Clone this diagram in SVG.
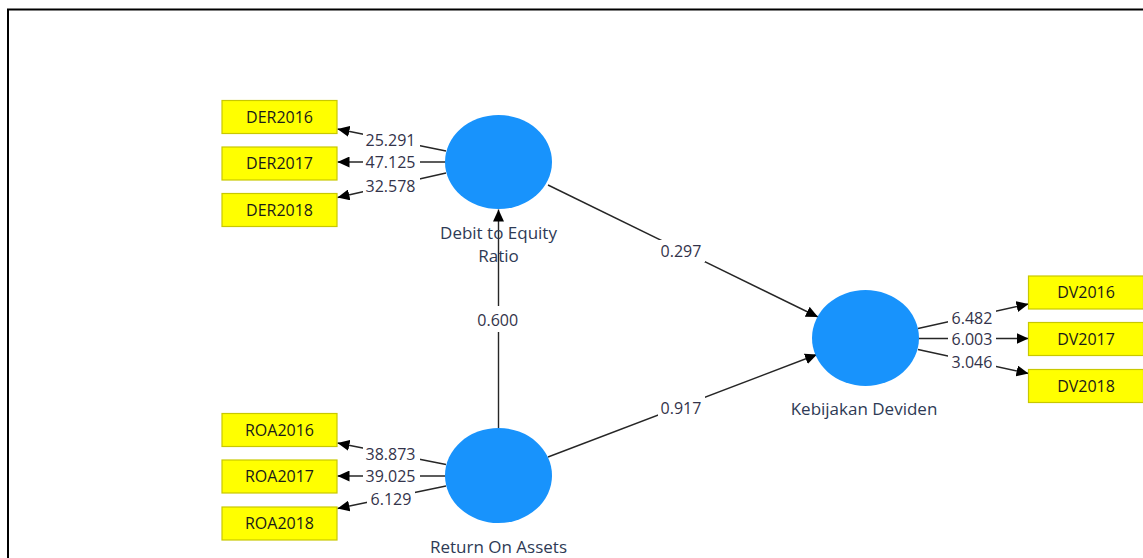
<svg xmlns="http://www.w3.org/2000/svg" width="1143" height="558" viewBox="0 0 1143 558">
<defs>
<marker id="arr" markerUnits="userSpaceOnUse" markerWidth="13" markerHeight="11" refX="12" refY="5.5" orient="auto">
<path d="M0,0 L12,5.5 L0,11 z" fill="#000"/>
</marker>
<style>
.frame{stroke:#000;stroke-width:2;fill:none}
.ln{stroke:#262626;stroke-width:1.4;fill:none}
.arw{marker-end:url(#arr)}
.bg{fill:#fff}
.lbl{font-family:"Open Sans","Noto Sans",sans-serif;font-size:16px;fill:#33334a;text-anchor:middle}
.box{fill:#ffff00;stroke:#c8c800;stroke-width:1.2}
.btx{font-family:"Open Sans","Noto Sans",sans-serif;font-size:16px;fill:#1a1a1a;text-anchor:middle}
.lv{fill:#1893fc}
.ntx{font-family:"Open Sans","Noto Sans",sans-serif;font-size:17px;fill:#2e3a55;text-anchor:middle}
</style>
</defs>
<rect width="1143" height="558" fill="#fff"/>
<path class="frame" d="M8,558 L8,9.5 L1143,9.5"/>

<g id="connectors">
<line class="ln arw" x1="498.5" y1="428" x2="498.5" y2="209.5"/>
<rect class="bg" x="476" y="306" width="44" height="26"/>
<text class="lbl" x="497.7" y="325.5">0.600</text>

<line class="ln arw" x1="548" y1="185" x2="818" y2="317"/>
<rect class="bg" x="658" y="240" width="47" height="22"/>
<text class="lbl" x="681" y="256.5">0.297</text>

<line class="ln arw" x1="548" y1="457" x2="817" y2="354.5"/>
<rect class="bg" x="658" y="396" width="47" height="22"/>
<text class="lbl" x="681" y="413.5">0.917</text>

<line class="ln arw" x1="446" y1="151" x2="337.5" y2="129"/>
<rect class="bg" x="363" y="131" width="57" height="19"/>
<text class="lbl" x="390.5" y="145.5">25.291</text>
<line class="ln arw" x1="446" y1="162" x2="337.5" y2="162"/>
<rect class="bg" x="363" y="153" width="57" height="19"/>
<text class="lbl" x="390.5" y="168">47.125</text>
<line class="ln arw" x1="446" y1="173" x2="337.5" y2="197.5"/>
<rect class="bg" x="363" y="177" width="57" height="19"/>
<text class="lbl" x="390.5" y="191.5">32.578</text>

<line class="ln arw" x1="446" y1="464.5" x2="337.5" y2="443"/>
<rect class="bg" x="363" y="445" width="57" height="19"/>
<text class="lbl" x="390.5" y="460">38.873</text>
<line class="ln arw" x1="446" y1="476" x2="337.5" y2="476"/>
<rect class="bg" x="363" y="467" width="57" height="19"/>
<text class="lbl" x="390.5" y="481.5">39.025</text>
<line class="ln arw" x1="446" y1="486" x2="337.5" y2="508.5"/>
<rect class="bg" x="367" y="490" width="48" height="19"/>
<text class="lbl" x="391" y="505">6.129</text>

<line class="ln arw" x1="918" y1="328.5" x2="1028.5" y2="304"/>
<rect class="bg" x="948" y="309" width="48" height="19"/>
<text class="lbl" x="972" y="324">6.482</text>
<line class="ln arw" x1="918" y1="338.5" x2="1028.5" y2="338.5"/>
<rect class="bg" x="948" y="330" width="48" height="19"/>
<text class="lbl" x="972" y="345">6.003</text>
<line class="ln arw" x1="918" y1="349.5" x2="1028.5" y2="373.5"/>
<rect class="bg" x="948" y="353" width="48" height="19"/>
<text class="lbl" x="972" y="367.5">3.046</text>
</g>

<g id="node-der">
<ellipse class="lv" cx="498.5" cy="162" rx="53.5" ry="47"/>
<text class="ntx" x="498.5" y="238.5">Debit to Equity<tspan x="498.5" dy="23">Ratio</tspan></text>
</g>
<g id="node-roa">
<ellipse class="lv" cx="498.5" cy="475.5" rx="53.5" ry="47.5"/>
<text class="ntx" x="498.5" y="553">Return On Assets</text>
</g>
<g id="node-kd">
<ellipse class="lv" cx="865.5" cy="338" rx="53.5" ry="48"/>
<text class="ntx" x="864" y="415">Kebijakan Deviden</text>
</g>

<g id="ind-der2016"><rect class="box" x="222" y="100.5" width="115" height="33"/><text class="btx" x="279.5" y="122.5">DER2016</text></g>
<g id="ind-der2017"><rect class="box" x="222" y="147" width="115" height="33"/><text class="btx" x="279.5" y="169">DER2017</text></g>
<g id="ind-der2018"><rect class="box" x="222" y="193.5" width="115" height="33"/><text class="btx" x="279.5" y="216">DER2018</text></g>

<g id="ind-roa2016"><rect class="box" x="222" y="413.5" width="115" height="33"/><text class="btx" x="279.5" y="435.7">ROA2016</text></g>
<g id="ind-roa2017"><rect class="box" x="222" y="460" width="115" height="33"/><text class="btx" x="279.5" y="482.3">ROA2017</text></g>
<g id="ind-roa2018"><rect class="box" x="222" y="507" width="115" height="33"/><text class="btx" x="279.5" y="529.3">ROA2018</text></g>

<g id="ind-dv2016"><rect class="box" x="1028.5" y="276" width="115" height="33"/><text class="btx" x="1086" y="298.3">DV2016</text></g>
<g id="ind-dv2017"><rect class="box" x="1028.5" y="322.5" width="115" height="33"/><text class="btx" x="1086" y="345">DV2017</text></g>
<g id="ind-dv2018"><rect class="box" x="1028.5" y="369.5" width="115" height="33"/><text class="btx" x="1086" y="391.7">DV2018</text></g>
</svg>
